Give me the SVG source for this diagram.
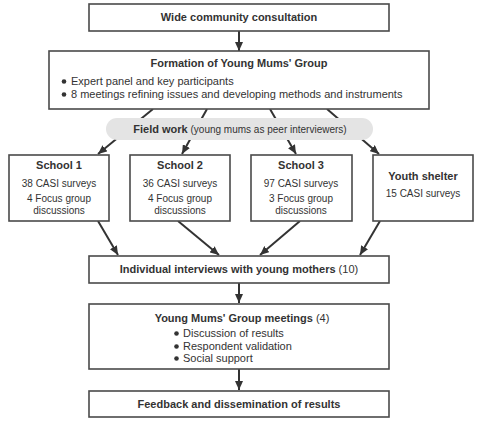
<svg xmlns="http://www.w3.org/2000/svg" width="480" height="422" viewBox="0 0 480 422">
<defs>
<marker id="ah" markerUnits="userSpaceOnUse" markerWidth="10" markerHeight="8" refX="9" refY="4" orient="auto">
<path d="M0,0 L9,4 L0,8 z" fill="#333"/>
</marker>
<style>
.box{fill:#fff;stroke:#4a4a4a;stroke-width:1.6}
.pill{fill:#e4e4e4;stroke:none}
.c{stroke:#333;stroke-width:2;fill:none;marker-end:url(#ah)}
text{font-family:"Liberation Sans",Arial,sans-serif;fill:#333}
.b{font-weight:bold;font-size:11px}
.r{font-size:11px}
.s{font-size:10px}
.m{text-anchor:middle}
</style>
</defs>
<rect width="480" height="422" fill="#fff"/>
<g id="connectors">
<line class="c" x1="239" y1="31" x2="239" y2="51"/>
<line class="c" x1="153" y1="109" x2="98" y2="154"/>
<line class="c" x1="207" y1="109" x2="182" y2="154"/>
<line class="c" x1="270" y1="109" x2="296" y2="154"/>
<line class="c" x1="327" y1="109" x2="379" y2="154"/>
<line class="c" x1="98" y1="221" x2="118" y2="255"/>
<line class="c" x1="178" y1="221" x2="219" y2="255"/>
<line class="c" x1="300" y1="221" x2="260" y2="255"/>
<line class="c" x1="380" y1="221" x2="360" y2="255"/>
<line class="c" x1="239" y1="283" x2="239" y2="303"/>
<line class="c" x1="239" y1="369" x2="239" y2="390"/>
</g>
<g id="consultation">
<rect class="box" x="89" y="4" width="300" height="27"/>
<text class="b m" x="239" y="21">Wide community consultation</text>
</g>
<g id="formation">
<rect class="box" x="49" y="51" width="380" height="58"/>
<text class="b m" x="239" y="67">Formation of Young Mums' Group</text>
<circle cx="64" cy="81.5" r="2.3" fill="#333"/>
<text class="r" x="71" y="85">Expert panel and key participants</text>
<circle cx="64" cy="94.5" r="2.3" fill="#333"/>
<text class="r" x="71" y="98">8 meetings refining issues and developing methods and instruments</text>
</g>
<g id="fieldwork">
<rect class="pill" x="106" y="118" width="267" height="22" rx="11"/>
<text class="m" x="240" y="132.5"><tspan class="b">Field work</tspan><tspan class="s"> (young mums as peer interviewers)</tspan></text>
</g>
<g id="school1">
<rect class="box" x="9" y="155" width="100" height="66"/>
<text class="b m" x="59" y="169">School 1</text>
<text class="s m" x="59" y="187">38 CASI surveys</text>
<text class="s m" x="59" y="202">4 Focus group</text>
<text class="s m" x="59" y="214">discussions</text>
</g>
<g id="school2">
<rect class="box" x="130" y="155" width="100" height="66"/>
<text class="b m" x="180" y="169">School 2</text>
<text class="s m" x="180" y="187">36 CASI surveys</text>
<text class="s m" x="180" y="202">4 Focus group</text>
<text class="s m" x="180" y="214">discussions</text>
</g>
<g id="school3">
<rect class="box" x="251" y="155" width="101" height="66"/>
<text class="b m" x="301" y="169">School 3</text>
<text class="s m" x="301" y="187">97 CASI surveys</text>
<text class="s m" x="301" y="202">3 Focus group</text>
<text class="s m" x="301" y="214">discussions</text>
</g>
<g id="shelter">
<rect class="box" x="373" y="155" width="100" height="66"/>
<text class="b m" x="423" y="180">Youth shelter</text>
<text class="s m" x="423" y="197">15 CASI surveys</text>
</g>
<g id="interviews">
<rect class="box" x="89" y="256" width="300" height="27"/>
<text class="m" x="239" y="273"><tspan class="b">Individual interviews with young mothers</tspan><tspan class="r"> (10)</tspan></text>
</g>
<g id="meetings">
<rect class="box" x="89" y="304" width="300" height="65"/>
<text class="m" x="242" y="322"><tspan class="b">Young Mums' Group meetings</tspan><tspan class="r"> (4)</tspan></text>
<circle cx="176.5" cy="333.5" r="2.3" fill="#333"/>
<text class="r" x="183" y="337">Discussion of results</text>
<circle cx="176.5" cy="346.5" r="2.3" fill="#333"/>
<text class="r" x="183" y="350">Respondent validation</text>
<circle cx="176.5" cy="358.5" r="2.3" fill="#333"/>
<text class="r" x="183" y="362">Social support</text>
</g>
<g id="feedback">
<rect class="box" x="89" y="391" width="300" height="26"/>
<text class="b m" x="239" y="408">Feedback and dissemination of results</text>
</g>
</svg>
